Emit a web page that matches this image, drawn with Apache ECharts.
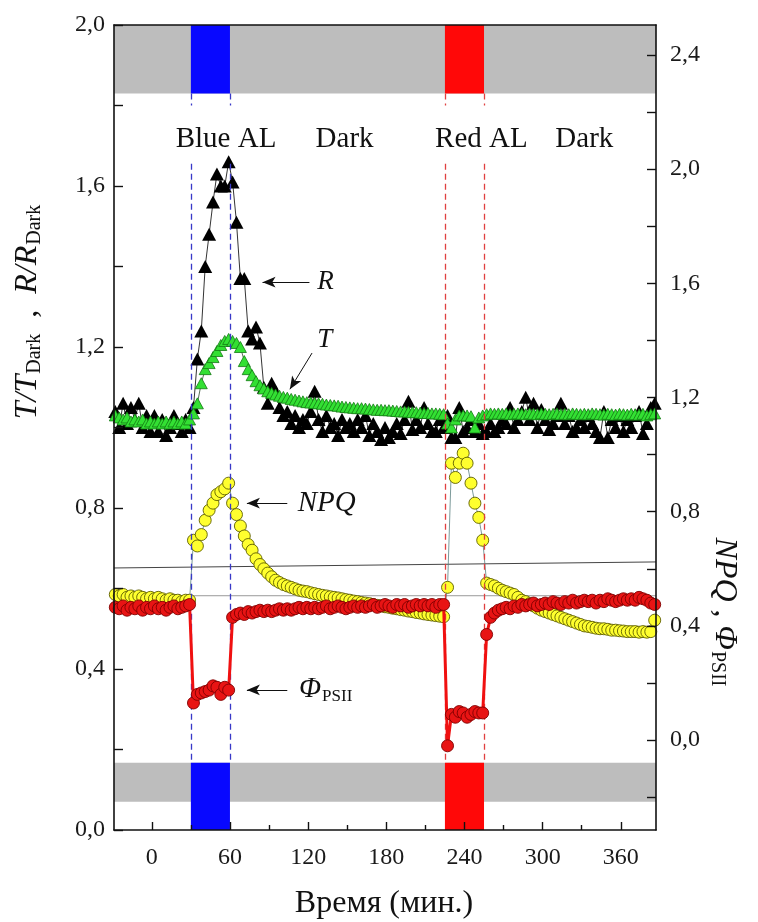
<!DOCTYPE html>
<html>
<head>
<meta charset="utf-8">
<script src="https://cdn.jsdelivr.net/npm/echarts@6/dist/echarts.min.js"></script>
<style>
  html, body { margin: 0; padding: 0; background: #fff; }
  #chart { width: 758px; height: 922px; }
</style>
</head>
<body>
<div id="chart"></div>
<script>
// Sampling times, minutes
const time = [
  -28, -25, -22, -19, -16, -13, -10, -7, -4, -1,
  2, 5, 8, 11, 14, 17, 20, 23, 26, 29,
  32, 35, 38, 41, 44, 47, 50, 53, 56, 59,
  62, 65, 68, 71, 74, 77, 80, 83, 86, 89,
  92, 95, 98, 101, 104, 107, 110, 113, 116, 119,
  122, 125, 128, 131, 134, 137, 140, 143, 146, 149,
  152, 155, 158, 161, 164, 167, 170, 173, 176, 179,
  182, 185, 188, 191, 194, 197, 200, 203, 206, 209,
  212, 215, 218, 221, 224, 227, 230, 233, 236, 239,
  242, 245, 248, 251, 254, 257, 260, 263, 266, 269,
  272, 275, 278, 281, 284, 287, 290, 293, 296, 299,
  302, 305, 308, 311, 314, 317, 320, 323, 326, 329,
  332, 335, 338, 341, 344, 347, 350, 353, 356, 359,
  362, 365, 368, 371, 374, 377, 380, 383, 386
];

// R / R_Dark (left axis)
const ratioR = [
  1.04, 1.00, 1.06, 1.01, 1.05, 1.02, 1.06, 1.00, 1.03, 0.99,
  1.03, 0.99, 1.02, 0.98, 1.00, 1.03, 1.01, 0.99, 1.02, 1.00,
  1.05, 1.17, 1.24, 1.40, 1.48, 1.56, 1.63, 1.60, 1.60, 1.66,
  1.61, 1.51, 1.37, 1.37, 1.24, 1.22, 1.25, 1.21, 1.10, 1.06,
  1.11, 1.09, 1.05, 1.03, 1.04, 1.01, 1.03, 1.00, 1.02, 1.01,
  1.04, 1.09, 1.02, 0.99, 1.03, 1.00, 1.01, 0.98, 1.02, 1.00,
  1.01, 0.99, 1.02, 1.00, 1.03, 0.98, 1.01, 0.99, 0.97, 1.00,
  0.975, 0.99, 1.01, 0.985, 1.02, 1.065, 0.995, 1.02, 1.00, 1.05,
  1.01, 0.99, 0.99, 1.02, 1.00, 1.03, 0.975, 0.975, 1.05, 0.99,
  1.00, 1.02, 0.99, 1.01, 0.985, 0.99, 1.01, 0.99, 1.00, 1.02,
  1.01, 1.05, 1.00, 1.02, 1.04, 1.075, 1.02, 1.06, 1.00, 1.045,
  1.02, 0.995, 1.01, 1.03, 1.06, 1.01, 1.03, 0.99, 1.00, 1.02,
  1.00, 1.03, 1.01, 0.99, 0.975, 1.04, 0.975, 1.02, 1.00, 1.03,
  0.99, 1.02, 1.00, 1.03, 1.04, 0.985, 1.01, 1.05, 1.06
];

// T / T_Dark (left axis)
const ratioT = [
  1.03, 1.025, 1.02, 1.025, 1.015, 1.02, 1.015, 1.02, 1.01, 1.015,
  1.01, 1.015, 1.01, 1.015, 1.01, 1.015, 1.01, 1.015, 1.01, 1.02,
  1.035, 1.06, 1.11, 1.145, 1.16, 1.175, 1.19, 1.205, 1.215, 1.22,
  1.215, 1.21, 1.20, 1.165, 1.145, 1.13, 1.115, 1.105, 1.097, 1.09,
  1.086, 1.082, 1.079, 1.076, 1.074, 1.071, 1.069, 1.067, 1.065, 1.063,
  1.062, 1.061, 1.06, 1.059, 1.057, 1.056, 1.055, 1.054, 1.052, 1.051,
  1.05, 1.049, 1.048, 1.048, 1.047, 1.046, 1.045, 1.044, 1.044, 1.043,
  1.043, 1.042, 1.041, 1.04, 1.04, 1.039, 1.038, 1.038, 1.037, 1.036,
  1.036, 1.035, 1.035, 1.034, 1.033, 1.01, 1.00, 1.02, 1.03, 1.03,
  1.03, 1.028, 1.00, 1.025, 1.03, 1.033, 1.035, 1.034, 1.035, 1.034,
  1.035, 1.033, 1.034, 1.035, 1.034, 1.033, 1.035, 1.034, 1.033, 1.035,
  1.034, 1.033, 1.034, 1.035, 1.033, 1.034, 1.033, 1.035, 1.034, 1.033,
  1.034, 1.033, 1.035, 1.034, 1.033, 1.032, 1.034, 1.033, 1.032, 1.034,
  1.033, 1.032, 1.034, 1.033, 1.032, 1.034, 1.03, 1.033, 1.035
];

// NPQ (right axis)
const npq = [
  0.51, 0.505, 0.51, 0.50, 0.505, 0.50, 0.505, 0.50, 0.495, 0.50,
  0.495, 0.50, 0.495, 0.49, 0.495, 0.49, 0.49, 0.485, 0.49, 0.49,
  0.70, 0.68, 0.72, 0.77, 0.805, 0.83, 0.86, 0.87, 0.88, 0.90,
  0.83, 0.79, 0.75, 0.715, 0.685, 0.665, 0.635, 0.615, 0.60, 0.585,
  0.572, 0.56, 0.552, 0.545, 0.54, 0.535, 0.53, 0.525, 0.522, 0.52,
  0.516, 0.513, 0.51, 0.507, 0.505, 0.502, 0.50, 0.498, 0.495, 0.492,
  0.49, 0.487, 0.485, 0.482, 0.48, 0.478, 0.475, 0.472, 0.47, 0.467,
  0.465, 0.462, 0.46, 0.457, 0.455, 0.452, 0.45, 0.447, 0.445, 0.442,
  0.44, 0.438, 0.436, 0.434, 0.432, 0.535, 0.97, 0.92, 0.97, 1.005,
  0.97, 0.90, 0.83, 0.78, 0.70, 0.55, 0.545, 0.54, 0.532, 0.525,
  0.52, 0.515, 0.51, 0.50, 0.49, 0.485, 0.478, 0.47, 0.462, 0.455,
  0.45, 0.445, 0.44, 0.435, 0.43, 0.425, 0.42, 0.415, 0.41, 0.405,
  0.40, 0.398, 0.395, 0.392, 0.39, 0.39, 0.388, 0.385, 0.385, 0.383,
  0.382, 0.38, 0.38, 0.38, 0.378, 0.38, 0.378, 0.38, 0.42
];

// Effective quantum yield of PSII (right axis)
const phiPSII = [
  0.465, 0.46, 0.47, 0.455, 0.465, 0.46, 0.47, 0.455, 0.465, 0.46,
  0.47, 0.46, 0.465, 0.455, 0.465, 0.47, 0.46, 0.465, 0.47, 0.475,
  0.13, 0.16, 0.165, 0.17, 0.175, 0.19, 0.185, 0.16, 0.185, 0.175,
  0.43, 0.44, 0.445, 0.44, 0.45, 0.445, 0.45, 0.455, 0.45, 0.455,
  0.45, 0.455, 0.46, 0.455, 0.46, 0.455, 0.46, 0.465, 0.46, 0.465,
  0.46, 0.465, 0.46, 0.465, 0.47, 0.46, 0.465, 0.47, 0.465, 0.46,
  0.465, 0.47, 0.465, 0.47, 0.465, 0.47, 0.475, 0.465, 0.47, 0.475,
  0.47, 0.465, 0.475, 0.47, 0.475, 0.465, 0.47, 0.475, 0.47, 0.475,
  0.47, 0.475, 0.465, 0.475, 0.475, -0.02, 0.09, 0.08, 0.10, 0.095,
  0.08, 0.09, 0.10, 0.095, 0.095, 0.37, 0.43, 0.445, 0.455, 0.46,
  0.465, 0.46, 0.47, 0.465, 0.475, 0.47, 0.475, 0.48, 0.47, 0.475,
  0.48, 0.475, 0.485, 0.48, 0.475, 0.485, 0.48, 0.49, 0.48, 0.485,
  0.49, 0.485, 0.49, 0.48, 0.49, 0.485, 0.495, 0.49, 0.485, 0.49,
  0.495, 0.49, 0.495, 0.49, 0.50, 0.495, 0.49, 0.48, 0.475
];

// Actinic light periods, minutes
const blueLight = [30, 60];
const redLight = [225, 255];

// Axis ticks and labels
const xTicks = [0, 60, 120, 180, 240, 300, 360];
const xMinorTicks = [30, 90, 150, 210, 270, 330];
const rightLabels = [0, 0.4, 0.8, 1.2, 1.6, 2.0, 2.4];
const rightTicks = [-0.2, 0, 0.2, 0.4, 0.6, 0.8, 1.0, 1.2, 1.4, 1.6, 1.8, 2.0, 2.2, 2.4];

// Light-state labels along the top
const stateNames = ['Blue AL', 'Dark', 'Red AL', 'Dark'];
const stateTimes = [57, 148, 253, 332];

// Two thin baselines across the lower panel (left-axis units)
const baselineUpper = [[-29, 0.651], [387, 0.666]];
const baselineLower = [[-29, 0.582], [387, 0.582]];

const X_MIN = -29, X_MAX = 387;
const RIGHT_MIN = -0.315, RIGHT_MAX = 2.505;
const FONT = '"Liberation Serif", "Times New Roman", serif';
const INK = '#111';

const pairs = (xs, ys) => xs.map((x, i) => [x, ys[i]]);
const fmt = v => (Math.abs(v) < 1e-9 ? 0 : v).toFixed(1).replace('.', ',');

const chart = echarts.init(document.getElementById('chart'));

// Grey light-state strips with coloured actinic-light blocks
function bands() {
  const grey = { color: '#bdbdbd' };
  const blue = { color: '#0808ff' };
  const red = { color: '#ff0808' };
  return [
    [{ xAxis: X_MIN, yAxis: 1.83, itemStyle: grey }, { xAxis: X_MAX, yAxis: 2.0 }],
    [{ xAxis: X_MIN, yAxis: 0.07, itemStyle: grey }, { xAxis: X_MAX, yAxis: 0.167 }],
    [{ xAxis: blueLight[0], yAxis: 1.83, itemStyle: blue }, { xAxis: blueLight[1], yAxis: 2.0 }],
    [{ xAxis: blueLight[0], yAxis: 0, itemStyle: blue }, { xAxis: blueLight[1], yAxis: 0.167 }],
    [{ xAxis: redLight[0], yAxis: 1.83, itemStyle: red }, { xAxis: redLight[1], yAxis: 2.0 }],
    [{ xAxis: redLight[0], yAxis: 0, itemStyle: red }, { xAxis: redLight[1], yAxis: 0.167 }]
  ];
}

// Dashed guides marking light on/off, broken where the state labels sit
function guides(t, color) {
  const ls = { color, width: 1.3, type: [6, 4] };
  return [
    [{ coord: [t, 1.83], lineStyle: ls }, { coord: [t, 1.80] }],
    [{ coord: [t, 1.655], lineStyle: ls }, { coord: [t, 0.167] }]
  ];
}

function arrow(from, to) {
  return [
    { coord: from, symbol: 'none' },
    { coord: to, symbol: 'arrow', symbolSize: [8, 13] }
  ];
}

const axisLine = { show: true, onZero: false, lineStyle: { color: INK, width: 1.6 } };
const tickStyle = { color: INK, width: 1.4 };
const labelStyle = { fontFamily: FONT, fontSize: 24, color: '#1a1a1a' };

const option = {
  animation: false,
  backgroundColor: '#ffffff',
  grid: { left: 114, top: 25, width: 542, height: 805, containLabel: false, outerBoundsMode: 'none' },
  xAxis: [
    {
      type: 'value', min: X_MIN, max: X_MAX, position: 'bottom', z: 10,
      axisLine,
      axisTick: { show: true, inside: true, length: 8, customValues: xTicks, lineStyle: tickStyle },
      axisLabel: Object.assign({ customValues: xTicks, margin: 16 }, labelStyle),
      splitLine: { show: false }
    },
    {
      type: 'value', min: X_MIN, max: X_MAX, position: 'bottom', z: 10,
      axisLine: { show: false, onZero: false },
      axisTick: { show: true, inside: true, length: 5, customValues: xMinorTicks, lineStyle: tickStyle },
      axisLabel: { show: false },
      splitLine: { show: false }
    },
    {
      type: 'value', min: X_MIN, max: X_MAX, position: 'top', z: 10,
      axisLine,
      axisTick: { show: false },
      axisLabel: { show: false },
      splitLine: { show: false }
    }
  ],
  yAxis: [
    {
      type: 'value', min: 0, max: 2.0, interval: 0.4, position: 'left', z: 10,
      axisLine,
      axisTick: { show: true, inside: true, length: 9, lineStyle: tickStyle },
      minorTick: { show: true, splitNumber: 2, length: 9, lineStyle: tickStyle },
      axisLabel: Object.assign({ formatter: fmt, margin: 9 }, labelStyle),
      splitLine: { show: false },
      minorSplitLine: { show: false }
    },
    {
      type: 'value', min: RIGHT_MIN, max: RIGHT_MAX, position: 'right', z: 10,
      axisLine,
      axisTick: { show: true, inside: true, length: 9, customValues: rightTicks, lineStyle: tickStyle },
      axisLabel: Object.assign({ customValues: rightLabels, formatter: fmt, margin: 14 }, labelStyle),
      splitLine: { show: false }
    }
  ],
  series: [
    {
      name: 'baselines-upper', type: 'line', xAxisIndex: 0, yAxisIndex: 0, z: 1,
      data: baselineUpper, showSymbol: false, symbol: 'none', silent: true,
      lineStyle: { color: '#444', width: 1 },
      markArea: { silent: true, data: bands() },
      markLine: {
        silent: true, symbol: ['none', 'none'], label: { show: false },
        data: [].concat(guides(blueLight[0], '#3838c8'), guides(blueLight[1], '#3838c8'),
                        guides(redLight[0], '#e04040'), guides(redLight[1], '#e04040'))
      }
    },
    {
      name: 'baselines-lower', type: 'line', xAxisIndex: 0, yAxisIndex: 0, z: 1,
      data: baselineLower, showSymbol: false, symbol: 'none', silent: true,
      lineStyle: { color: '#9a9a9a', width: 1 }
    },
    {
      name: 'R', type: 'line', xAxisIndex: 0, yAxisIndex: 0, z: 2,
      data: pairs(time, ratioR),
      symbol: 'triangle', symbolSize: [14, 13],
      itemStyle: { color: '#000' },
      lineStyle: { color: '#000', width: 0.8 }
    },
    {
      name: 'T', type: 'line', xAxisIndex: 0, yAxisIndex: 0, z: 3,
      data: pairs(time, ratioT),
      symbol: 'triangle', symbolSize: [12, 11],
      itemStyle: { color: '#33e033', borderColor: '#137a13', borderWidth: 0.8 },
      lineStyle: { color: '#2d4d2d', width: 0.8 }
    },
    {
      name: 'NPQ', type: 'line', xAxisIndex: 0, yAxisIndex: 1, z: 4,
      data: pairs(time, npq),
      symbol: 'circle', symbolSize: 12,
      itemStyle: { color: '#ffff2e', borderColor: '#5e5e00', borderWidth: 0.9 },
      lineStyle: { color: '#5a8080', width: 0.8 }
    },
    {
      name: 'PhiPSII', type: 'line', xAxisIndex: 0, yAxisIndex: 1, z: 5,
      data: pairs(time, phiPSII),
      symbol: 'circle', symbolSize: 12,
      itemStyle: { color: '#e81414', borderColor: '#800000', borderWidth: 0.9 },
      lineStyle: { color: '#f01010', width: 3 }
    },
    {
      name: 'pointers', type: 'line', xAxisIndex: 0, yAxisIndex: 0, z: 6,
      data: [], silent: true,
      markLine: {
        silent: true, label: { show: false },
        lineStyle: { color: '#111', width: 1, type: 'solid' },
        data: [
          arrow([121, 1.361], [85, 1.361]),
          arrow([123, 1.185], [106, 1.095]),
          arrow([104, 0.812], [73, 0.812]),
          arrow([104, 0.348], [73, 0.348])
        ]
      }
    }
  ]
};

chart.setOption(option);

// Text overlays positioned from data coordinates
const px = (t, v) => chart.convertToPixel({ xAxisIndex: 0, yAxisIndex: 0 }, [t, v]);
const graphics = [];

stateNames.forEach((name, i) => {
  const p = px(stateTimes[i], 1.717);
  graphics.push({
    type: 'text', x: p[0], y: p[1], z: 20,
    style: { text: name, fontFamily: FONT, fontSize: 29, fill: '#111', align: 'center', verticalAlign: 'middle' }
  });
});

const italic = (txt, t, v, size) => {
  const p = px(t, v);
  return {
    type: 'text', x: p[0], y: p[1], z: 20,
    style: { text: txt, fontFamily: FONT, fontStyle: 'italic', fontSize: size, fill: '#111', align: 'left', verticalAlign: 'middle' }
  };
};
graphics.push(italic('R', 127, 1.361, 27));
graphics.push(italic('T', 127, 1.217, 27));
graphics.push(italic('NPQ', 112, 0.812, 29));
{
  const p = px(113, 0.348);
  graphics.push({
    type: 'text', x: p[0], y: p[1], z: 20,
    style: {
      text: '{i|Φ}{s|PSII}', align: 'left', verticalAlign: 'middle',
      rich: {
        i: { fontFamily: FONT, fontStyle: 'italic', fontSize: 29, lineHeight: 30, verticalAlign: 'top', fill: '#111' },
        s: { fontFamily: FONT, fontSize: 17, lineHeight: 17, padding: [21, 0, 0, 1], verticalAlign: 'bottom', fill: '#111' }
      }
    }
  });
}

const titleRich = {
  i: { fontFamily: FONT, fontStyle: 'italic', fontSize: 32, lineHeight: 33, verticalAlign: 'top', fill: '#111' },
  n: { fontFamily: FONT, fontSize: 32, lineHeight: 33, verticalAlign: 'top', fill: '#111' },
  s: { fontFamily: FONT, fontSize: 20, lineHeight: 20, padding: [21, 0, 0, 1], verticalAlign: 'bottom', fill: '#111' }
};

// Left axis title
graphics.push({
  type: 'group', x: 28, y: 312, rotation: Math.PI / 2, z: 20,
  children: [{
    type: 'text',
    style: { text: '{i|T/T}{s|Dark}{n|  ,  }{i|R/R}{s|Dark}', rich: titleRich, align: 'center', verticalAlign: 'middle' }
  }]
});

// Right axis title
graphics.push({
  type: 'group', x: 724, y: 612, rotation: -Math.PI / 2, z: 20,
  children: [{
    type: 'text',
    style: { text: '{i|NPQ}{n| , }{i|Φ}{s|PSII}', rich: titleRich, align: 'center', verticalAlign: 'middle' }
  }]
});

// Bottom axis title
graphics.push({
  type: 'text', x: 384, y: 904, z: 20,
  style: { text: 'Время (мин.)', fontFamily: FONT, fontSize: 32, fill: '#111', align: 'center', verticalAlign: 'middle' }
});

chart.setOption({ graphic: graphics });
</script>
</body>
</html>
